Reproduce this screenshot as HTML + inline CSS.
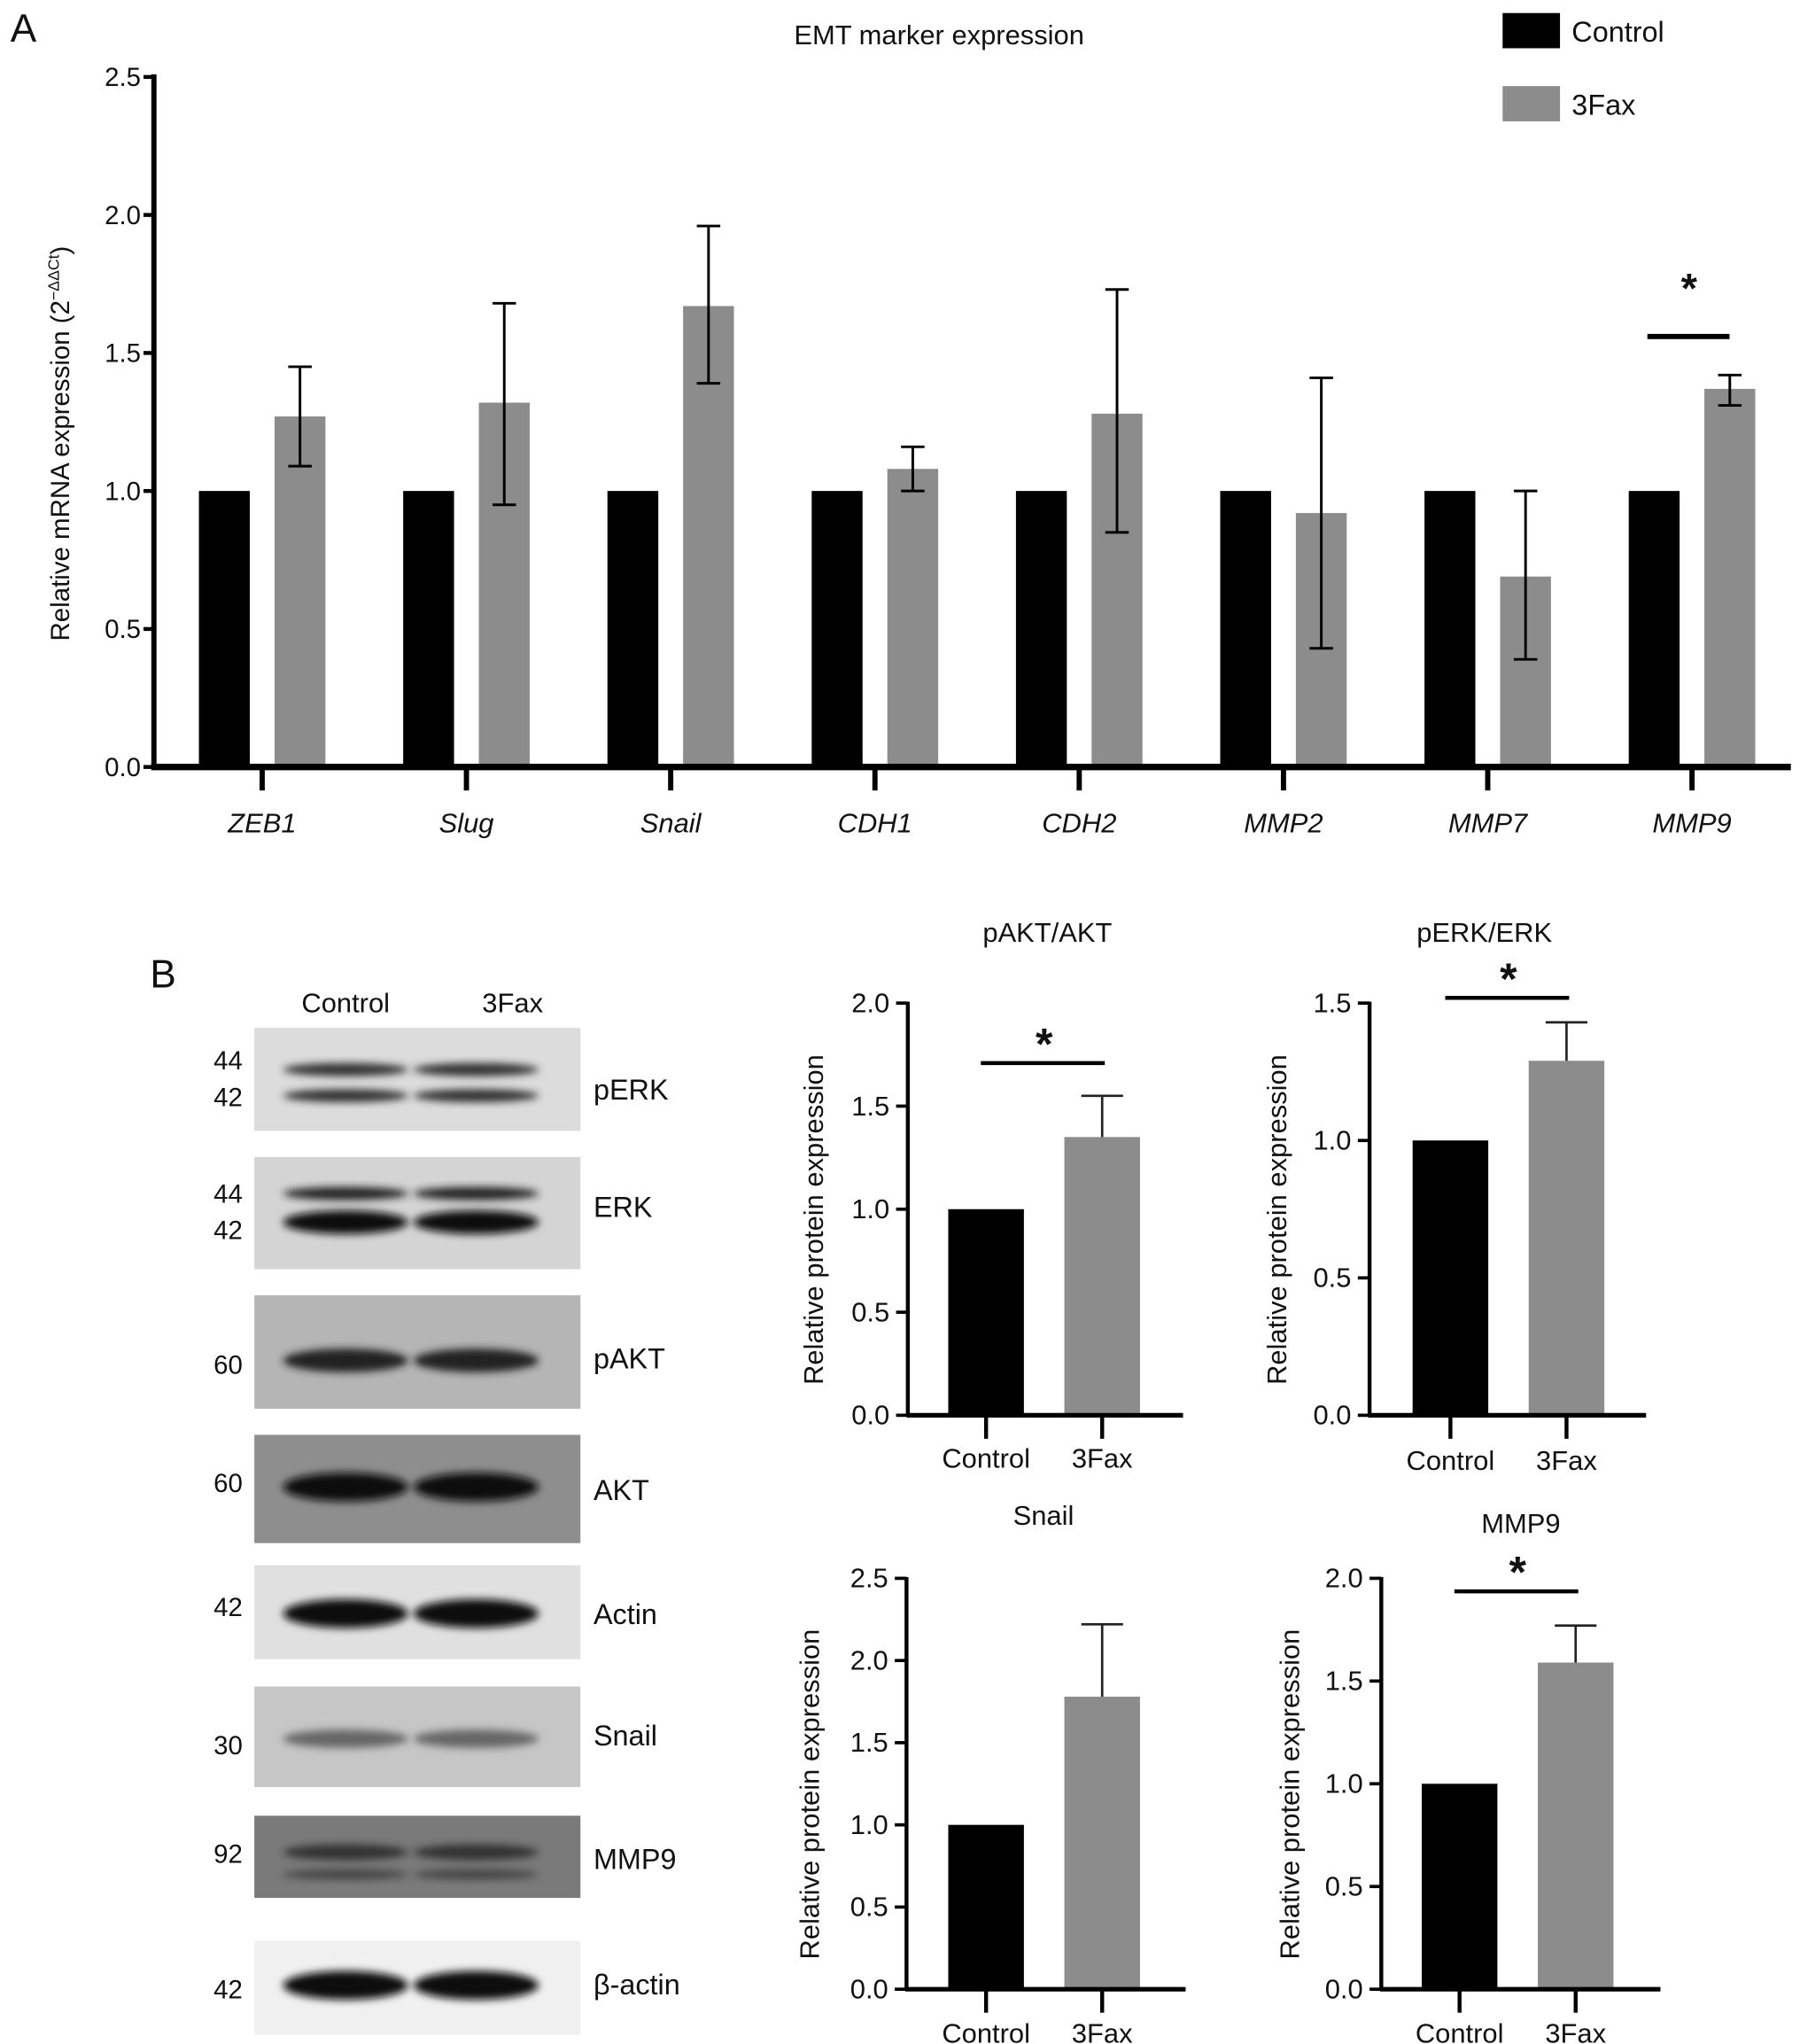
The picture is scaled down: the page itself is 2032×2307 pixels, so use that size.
<!DOCTYPE html>
<html><head><meta charset="utf-8"><style>
html,body{margin:0;padding:0;background:#fff}
svg{display:block}
text{font-family:"Liberation Sans",sans-serif;fill:#111}
</style></head><body>
<svg id="fig" width="2032" height="2307" viewBox="0 0 1380 1567" preserveAspectRatio="none" xmlns="http://www.w3.org/2000/svg">
<defs>
<filter id="blur" x="-20%" y="-50%" width="140%" height="200%"><feGaussianBlur stdDeviation="3"/></filter>
</defs>
<text x="8" y="32" font-size="30">A</text>
<text x="720" y="34" font-size="21" text-anchor="middle">EMT marker expression</text>
<g>
<rect x="1152" y="10" width="44" height="27" fill="#000"/>
<text x="1205" y="32" font-size="22">Control</text>
<rect x="1152" y="66" width="44" height="27" fill="#8c8c8c"/>
<text x="1205" y="88" font-size="22">3Fax</text>
</g>
<text transform="translate(53,340) rotate(-90)" font-size="20" text-anchor="middle">Relative mRNA expression (2<tspan font-size="12" dy="-8">−ΔΔCt</tspan><tspan dy="8">)</tspan></text>
<g id="chartA"></g>
<text x="115" y="757" font-size="30">B</text>
<g id="blots"></g>
<g id="small"></g>
</svg>
<script>
const NS="http://www.w3.org/2000/svg";
function mk(parent,tag,attrs,txt){const e=document.createElementNS(NS,tag);for(const k in attrs)e.setAttribute(k,attrs[k]);if(txt!==undefined)e.textContent=txt;parent.appendChild(e);return e;}

// ---- Chart A data ----
const genes=["ZEB1","Slug","Snail","CDH1","CDH2","MMP2","MMP7","MMP9"];
const controlVals=[1,1,1,1,1,1,1,1];
const faxVals=[1.27,1.32,1.67,1.08,1.28,0.92,0.69,1.37];
const faxErrLow=[1.09,0.95,1.39,1.00,0.85,0.43,0.39,1.31];
const faxErrHigh=[1.45,1.68,1.96,1.16,1.73,1.41,1.00,1.42];
const yTicksA=[0,0.5,1.0,1.5,2.0,2.5];
const yTickLabelsA=["0.0","0.5","1.0","1.5","2.0","2.5"];

(function(){
 const g=document.getElementById('chartA');
 const ax=118,y0=588,yT=59,yMax=2.5;
 const ys=v=>y0-(v/yMax)*(y0-yT);
 const xs=i=>201+i*156.6;
 const bw=39;
 yTicksA.forEach((t,i)=>{
  const l=mk(g,'line',{x1:ax-8,x2:ax,y1:ys(t),y2:ys(t),stroke:'#000','stroke-width':3});
  
  
  const tx=mk(g,'text',{x:ax-10,y:ys(t)+7,'font-size':20,'text-anchor':'end'},yTickLabelsA[i]);
  
  
 });
 genes.forEach((n,i)=>{
  const c=xs(i);
  const b1=mk(g,'rect',{x:c-29-bw/2,y:ys(controlVals[i]),width:bw,height:y0-ys(controlVals[i]),fill:'#000'});
  
  
  const b2=mk(g,'rect',{x:c+29-bw/2,y:ys(faxVals[i]),width:bw,height:y0-ys(faxVals[i]),fill:'#8c8c8c'});
  
  
  const ex=c+29;
  const e=mk(g,'path',{d:`M${ex},${ys(faxErrLow[i])}V${ys(faxErrHigh[i])}M${ex-9},${ys(faxErrHigh[i])}h18M${ex-9},${ys(faxErrLow[i])}h18`,stroke:'#000','stroke-width':2,fill:'none'});
  
  
  const tk=mk(g,'line',{x1:c,x2:c,y1:y0,y2:y0+18,stroke:'#000','stroke-width':4});
  
  
  const lb=mk(g,'text',{x:c,y:638,'font-size':21,'text-anchor':'middle','font-style':'italic'},n);
  
  
 });
 const ya=mk(g,'line',{x1:ax,x2:ax,y1:yT-2,y2:y0+2,stroke:'#000','stroke-width':4});
 
 
 const xa=mk(g,'line',{x1:ax-2,x2:1373,y1:y0,y2:y0,stroke:'#000','stroke-width':5});
 
 
 const sl=mk(g,'line',{x1:1263,x2:1326,y1:258,y2:258,stroke:'#000','stroke-width':4});
 
 
 const st=mk(g,'text',{x:1295,y:232,'font-size':32,'text-anchor':'middle','font-weight':'bold'},'*');
 
 
})();

// ---- Blots ----
const blotNames=["pERK","ERK","pAKT","AKT","Actin","Snail","MMP9","β-actin"];
(function(){
 const g=document.getElementById('blots');
 const h1=mk(g,'text',{x:265,y:776,'font-size':21,'text-anchor':'middle'},'Control');
 
 const h2=mk(g,'text',{x:393,y:776,'font-size':21,'text-anchor':'middle'},'3Fax');
 
 const panels=[
  {y:788,h:79,bg:'#dcdcdc',bands:[[820,5,'#333'],[840,5,'#333']],mw:[["44",820],["42",848]]},
  {y:887,h:86,bg:'#d4d4d4',bands:[[915,5,'#222'],[937,9,'#111']],mw:[["44",922],["42",950]]},
  {y:993,h:87,bg:'#b5b5b5',bands:[[1043,9,'#222']],mw:[["60",1053]]},
  {y:1100,h:83,bg:'#8e8e8e',bands:[[1140,11,'#111']],mw:[["60",1144]]},
  {y:1200,h:72,bg:'#e0e0e0',bands:[[1237,11,'#111']],mw:[["42",1239]]},
  {y:1293,h:77,bg:'#c6c6c6',bands:[[1333,7,'#666']],mw:[["30",1345]]},
  {y:1392,h:63,bg:'#7a7a7a',bands:[[1420,6,'#333'],[1437,4,'#444']],mw:[["92",1428]]},
  {y:1488,h:72,bg:'#f0f0f0',bands:[[1522,11,'#111']],mw:[["42",1532]]}
 ];
 const labY=[843,933,1049,1150,1245,1338,1433,1529];
 panels.forEach((p,i)=>{
  const r=mk(g,'rect',{x:195,y:p.y,width:250,height:p.h,fill:p.bg});
  
  
  p.bands.forEach(b=>{
   [265,365].forEach(cx=>{
    const e=mk(g,'ellipse',{cx:cx,cy:b[0],rx:48,ry:b[1],fill:b[2],filter:'url(#blur)'});
    
    
   });
  });
  p.mw.forEach(m=>{
   const t=mk(g,'text',{x:186,y:m[1],'font-size':20,'text-anchor':'end'},m[0]);
   
   
  });
  const lt=mk(g,'text',{x:455,y:labY[i],'font-size':22},blotNames[i]);
  
  
 });
})();

// ---- Small charts data ----
const smallTitles=["pAKT/AKT","pERK/ERK","Snail","MMP9"];
const smallCategories=["Control","3Fax"];
const smallControl=[1.0,1.0,1.0,1.0];
const smallFax=[1.35,1.29,1.78,1.59];
const smallFaxErr=[1.55,1.43,2.22,1.77];
const smallYMax=[2.0,1.5,2.5,2.0];
const smallTickStep=[0.5,0.5,0.5,0.5];
const smallSig=[true,true,false,true];

(function(){
 const g=document.getElementById('small');
 const L=[
  {ax:696,y0:1085,yT:769,xe:907,t1:756,ty:715,tx:803,yl:623,sigY:815,xl:1117},
  {ax:1050,y0:1085,yT:769,xe:1262,t1:1112,ty:715,tx:1138,yl:978,sigY:765,xl:1119},
  {ax:695,y0:1525,yT:1210,xe:909,t1:756,ty:1162,tx:800,yl:620,sigY:0,xl:1558},
  {ax:1059,y0:1525,yT:1210,xe:1273,t1:1119,ty:1168,tx:1166,yl:988,sigY:1220,xl:1558}
 ];
 L.forEach((c,k)=>{
  const ys=v=>c.y0-(v/smallYMax[k])*(c.y0-c.yT);
  const xs=i=>c.t1+i*89;
  const bw=58;
  const tt=mk(g,'text',{x:c.tx,y:c.ty+7,'font-size':21,'text-anchor':'middle'},smallTitles[k]);
  
  
  const yl=mk(g,'text',{transform:`translate(${c.yl+8},${(c.y0+c.yT)/2+8}) rotate(-90)`,'font-size':21,'text-anchor':'middle'},'Relative protein expression');
  
  
  for(let v=0;v<=smallYMax[k]+1e-9;v+=smallTickStep[k]){
   const tl=mk(g,'line',{x1:c.ax-9,x2:c.ax,y1:ys(v),y2:ys(v),stroke:'#000','stroke-width':2.5});
   
   
   const tx=mk(g,'text',{x:c.ax-14,y:ys(v)+7,'font-size':21,'text-anchor':'end'},v.toFixed(1));
   
   
  }
  const vals=[smallControl[k],smallFax[k]];
  vals.forEach((v,i)=>{
   const b=mk(g,'rect',{x:xs(i)-bw/2,y:ys(v),width:bw,height:c.y0-ys(v),fill:i?'#8c8c8c':'#000'});
   
   
   const tk=mk(g,'line',{x1:xs(i),x2:xs(i),y1:c.y0,y2:c.y0+18,stroke:'#000','stroke-width':3});
   
   
   const lb=mk(g,'text',{x:xs(i),y:c.xl+8,'font-size':21,'text-anchor':'middle'},smallCategories[i]);
   
   
  });
  const ex=xs(1);
  const e=mk(g,'path',{d:`M${ex},${ys(smallFax[k])}V${ys(smallFaxErr[k])}M${ex-16},${ys(smallFaxErr[k])}h32`,stroke:'#222','stroke-width':1.8,fill:'none'});
  
  
  const ya=mk(g,'line',{x1:c.ax,x2:c.ax,y1:c.yT-1,y2:c.y0+1,stroke:'#000','stroke-width':3});
  
  
  const xa=mk(g,'line',{x1:c.ax-1,x2:c.xe,y1:c.y0,y2:c.y0,stroke:'#000','stroke-width':3.5});
  
  
  if(smallSig[k]){
   const sl=mk(g,'line',{x1:xs(0)-4,x2:xs(1)+2,y1:c.sigY,y2:c.sigY,stroke:'#000','stroke-width':3});
   
   
   const st=mk(g,'text',{x:(xs(0)+xs(1))/2,y:c.sigY-3,'font-size':34,'text-anchor':'middle','font-weight':'bold'},'*');
   
   
  }
 });
})();
</script>
</body></html>
